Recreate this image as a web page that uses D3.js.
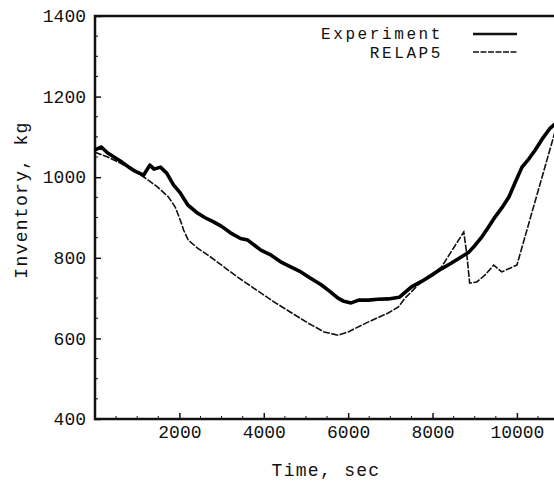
<!DOCTYPE html>
<html>
<head>
<meta charset="utf-8">
<script src="https://cdn.jsdelivr.net/npm/d3@7/dist/d3.min.js"></script>
<style>
  body { margin: 0; background: #fff; }
  svg text { font-family: "Liberation Mono", "Courier New", monospace; fill: #111; }
</style>
</head>
<body>
<svg id="canvas" width="554" height="481"></svg>
<script>
// time (s) and inventory (kg)
const expTime = [0, 150, 300, 450, 600, 800, 950, 1150, 1300, 1400, 1550, 1700, 1860, 2020, 2200, 2430, 2600, 2810, 3000, 3210, 3450, 3620, 3930, 4150, 4400, 4650, 4880, 5100, 5360, 5550, 5760, 5900, 6070, 6250, 6480, 6700, 6950, 7210, 7500, 7750, 7980, 8200, 8450, 8650, 8860, 9000, 9170, 9320, 9480, 9650, 9810, 9950, 10120, 10280, 10430, 10600, 10790, 10950]
const expInv = [1068, 1075, 1060, 1050, 1040, 1025, 1015, 1005, 1030, 1020, 1025, 1010, 981, 961, 931, 911, 900, 889, 878, 862, 848, 844, 819, 808, 790, 777, 765, 750, 733, 718, 700, 692, 688, 695, 695, 697, 698, 702, 728, 742, 757, 772, 787, 800, 814, 830, 852, 875, 901, 925, 951, 985, 1025, 1045, 1067, 1095, 1122, 1136]

const relTime = [0, 300, 600, 900, 1190, 1480, 1740, 1900, 2020, 2100, 2210, 2430, 2740, 3380, 4250, 5050, 5430, 5760, 6000, 6480, 6950, 7190, 7350, 7660, 8210, 8740, 8810, 8880, 9050, 9240, 9450, 9640, 10000, 10950]
const relInv = [1062, 1050, 1035, 1018, 998, 976, 951, 926, 894, 869, 844, 824, 802, 752, 690, 638, 616, 608, 616, 641, 663, 678, 700, 733, 777, 864, 811, 737, 740, 757, 782, 765, 782, 1130]

const xTicks = [2000, 4000, 6000, 8000, 10000]
const yTicks = [400, 600, 800, 1000, 1200, 1400]
const legendNames = ["Experiment", "RELAP5"]

const svg = d3.select('#canvas')
const mLeft = 95, mRight = 557, mTop = 16, mBottom = 419

const x = d3.scaleLinear().domain([0, 10950]).range([mLeft, mRight])
const y = d3.scaleLinear().domain([400, 1400]).range([mBottom, mTop])

const line = d3.line().x(d => x(d[0])).y(d => y(d[1]))

// minor ticks, inward
const minorX = d3.range(500, 11000, 500).filter(v => v % 2000 != 0)
const minorY = d3.range(450, 1400, 50).filter(v => v % 200 != 0)

const gx = svg.append('g').attr('transform', `translate(0,${mBottom})`)
  .call(d3.axisBottom(x).tickValues(xTicks).tickFormat(d3.format('d'))
    .tickSizeInner(-6).tickSizeOuter(0).tickPadding(5))
gx.selectAll('text').attr('font-size', 18).attr('dy', '0.75em')
gx.append('g').selectAll('line').data(minorX).enter().append('line')
  .attr('x1', d => x(d)).attr('x2', d => x(d)).attr('y1', 0).attr('y2', -3)
  .attr('stroke', '#111')

const gy = svg.append('g').attr('transform', `translate(${mLeft},0)`)
  .call(d3.axisLeft(y).tickValues(yTicks).tickFormat(d3.format('d'))
    .tickSizeInner(-6).tickSizeOuter(0).tickPadding(9))
gy.selectAll('text').attr('font-size', 18)
gy.append('g').selectAll('line').data(minorY).enter().append('line')
  .attr('y1', d => y(d)).attr('y2', d => y(d)).attr('x1', 0).attr('x2', 3)
  .attr('stroke', '#111')

svg.selectAll('.domain').remove()
svg.selectAll('.tick line').attr('stroke', '#111').attr('stroke-width', 1.5)

// frame
svg.append('path')
  .attr('d', `M${mRight},${mTop}H${mLeft}V${mBottom}H${mRight}`)
  .attr('fill', 'none').attr('stroke', '#111').attr('stroke-width', 2.5)

// series
svg.append('path')
  .datum(relTime.map((t, i) => [t, relInv[i]]))
  .attr('d', line)
  .attr('fill', 'none').attr('stroke', '#111').attr('stroke-width', 1.6)
  .attr('stroke-dasharray', '7,1.5')

svg.append('path')
  .datum(expTime.map((t, i) => [t, expInv[i]]))
  .attr('d', line)
  .attr('fill', 'none').attr('stroke', '#000').attr('stroke-width', 3.6)
  .attr('stroke-linejoin', 'round')

// axis titles
svg.append('text')
  .attr('x', 326).attr('y', 476)
  .attr('text-anchor', 'middle').attr('font-size', 18).attr('letter-spacing', 1.3)
  .text('Time, sec')

svg.append('text')
  .attr('transform', 'translate(27,200) rotate(-90)')
  .attr('text-anchor', 'middle').attr('font-size', 18).attr('letter-spacing', 1.3)
  .text('Inventory, kg')

// legend
const legend = svg.append('g')
legend.selectAll('text').data(legendNames).enter().append('text')
  .attr('x', 443).attr('y', (d, i) => 39 + i * 19)
  .attr('text-anchor', 'end').attr('font-size', 16).attr('letter-spacing', 2.6)
  .text(d => d)
legend.selectAll('line').data(legendNames).enter().append('line')
  .attr('x1', 473).attr('x2', 517)
  .attr('y1', (d, i) => 34 + i * 18).attr('y2', (d, i) => 34 + i * 18)
  .attr('stroke', '#111')
  .attr('stroke-width', (d, i) => i == 0 ? 2.5 : 1.4)
  .attr('stroke-dasharray', (d, i) => i == 0 ? null : '6,1.5')
</script>
</body>
</html>
